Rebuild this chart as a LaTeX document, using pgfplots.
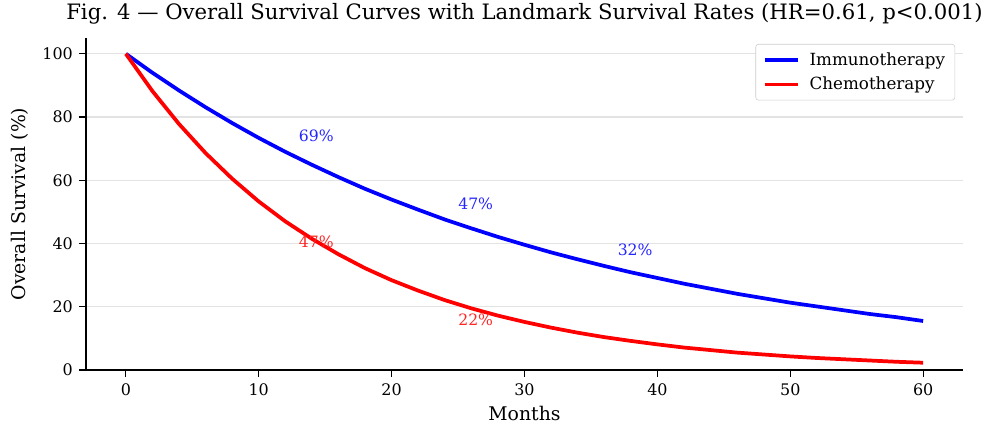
\documentclass[border=0pt]{standalone}
\usepackage{pgfplots}
\pgfplotsset{compat=1.18}
\usepackage{fontspec}
\setmainfont{DejaVu Serif}
\begin{document}
\begin{tikzpicture}
\begin{axis}[
  name=ax,
  scale only axis,
  width=8.77in, height=3.32in,
  xmin=-3, xmax=63, ymin=0, ymax=105,
  xtick={0,10,20,30,40,50,60},
  ytick={0,20,40,60,80,100},
  axis x line*=bottom, axis y line*=left,
  axis line style={line width=0.9pt, -},
  tick style={line width=0.9pt, black},
  tick align=outside, major tick length=5pt,
  ymajorgrids, grid style={line width=0.8pt, black!11},
  ticklabel style={font=\fontsize{11.5}{13.5}\selectfont},
  yticklabel style={xshift=-1pt},
  xticklabel style={yshift=-1pt},
  /pgf/number format/assume math mode=true,
  xlabel={Months}, ylabel={Overall Survival (\%)},
  label style={font=\fontsize{13.6}{16}\selectfont, inner sep=0pt},
  xlabel style={at={(axis description cs:0.5,-0.151)}, anchor=base},
  ylabel style={at={(axis description cs:-0.0758,0.5)}, anchor=center},
  title={Fig. 4 — Overall Survival Curves with Landmark Survival Rates (HR=0.61, p<0.001)},
  title style={font=\fontsize{15.33}{18}\selectfont, inner sep=0pt, at={(axis description cs:0.5,1.031)}, anchor=base},
  legend style={at={(axis description cs:0.991,0.982)}, anchor=north east, draw=black!20, rounded corners=2pt,
    font=\fontsize{12.1}{14}\selectfont, inner xsep=5pt, inner ysep=4pt, row sep=3pt,
    /tikz/every odd column/.append style={column sep=5pt}},
  legend cell align=left,
  legend image code/.code={\draw[#1, line width=2.7pt] (0cm,0cm) -- (0.85cm,0cm);},
  clip=false,
]
\addplot[blue, line width=2.7pt] coordinates {
(0,100)(2,94.0)(4,88.4)(6,83.1)(8,78.1)(10,73.4)(12,69.0)(14,64.9)(16,61.0)(18,57.3)(20,53.9)
(22,50.7)(24,47.6)(26,44.8)(28,42.1)(30,39.6)(32,37.2)(34,35.0)(36,32.9)(38,30.9)(40,29.1)
(42,27.3)(44,25.7)(46,24.1)(48,22.7)(50,21.3)(52,20.1)(54,18.9)(56,17.7)(58,16.7)(60,15.5)};
\addlegendentry{Immunotherapy}
\addplot[red, line width=2.7pt] coordinates {
(0,100)(2,88.2)(4,77.8)(6,68.6)(8,60.5)(10,53.3)(12,47.0)(14,41.5)(16,36.6)(18,32.2)(20,28.4)
(22,25.1)(24,22.1)(26,19.5)(28,17.2)(30,15.2)(32,13.4)(34,11.8)(36,10.4)(38,9.2)(40,8.1)
(42,7.1)(44,6.3)(46,5.5)(48,4.9)(50,4.3)(52,3.8)(54,3.4)(56,3.0)(58,2.6)(60,2.3)};
\addlegendentry{Chemotherapy}
\node[anchor=west, text=blue!85!white, font=\fontsize{11.3}{13.5}\selectfont, inner sep=0pt] at (axis cs:13,74.2) {69\%};
\node[anchor=west, text=blue!85!white, font=\fontsize{11.3}{13.5}\selectfont, inner sep=0pt] at (axis cs:25,52.6) {47\%};
\node[anchor=west, text=blue!85!white, font=\fontsize{11.3}{13.5}\selectfont, inner sep=0pt] at (axis cs:37,37.9) {32\%};
\node[anchor=west, text=red!85!white, font=\fontsize{11.3}{13.5}\selectfont, inner sep=0pt] at (axis cs:13,40.5) {47\%};
\node[anchor=west, text=red!85!white, font=\fontsize{11.3}{13.5}\selectfont, inner sep=0pt] at (axis cs:25,15.8) {22\%};
\end{axis}
\pgfresetboundingbox
\path[use as bounding box] ([xshift=-0.86in,yshift=-0.53in]ax.south west) rectangle ([xshift=0.22in,yshift=0.38in]ax.north east);
\end{tikzpicture}
\end{document}
